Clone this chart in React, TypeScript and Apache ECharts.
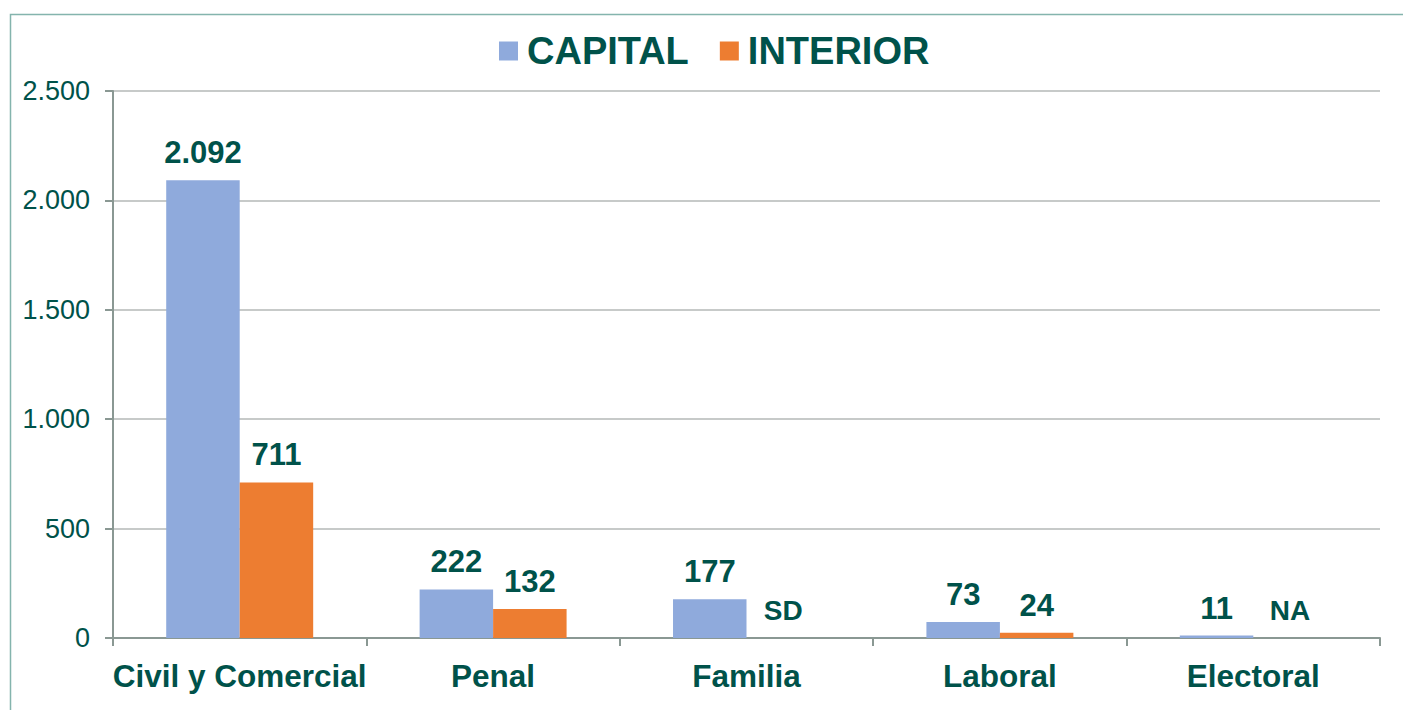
import React, { useEffect, useRef } from "react";
import * as echarts from "echarts";

const categories = ["Civil y Comercial", "Penal", "Familia", "Laboral", "Electoral"];
const capital = [2092, 222, 177, 73, 11];
const interior = [711, 132, 0, 24, 0];
const interiorNotes = ["", "", "SD", "", "NA"];
const yTicks = [0, 500, 1000, 1500, 2000, 2500];

const TEXT = "#00524a";
const FONT = "Liberation Sans, Arial, sans-serif";

function fmt(v: number): string {
  return String(v).replace(/\B(?=(\d{3})+(?!\d))/g, ".");
}

export default function App() {
  const ref = useRef<HTMLDivElement>(null);
  useEffect(() => {
    if (!ref.current) return;
    const chart = echarts.init(ref.current, null, { renderer: "svg" });
    const labelBase = {
      show: true,
      position: "top" as const,
      distance: 12,
      color: TEXT,
      fontFamily: FONT,
      fontWeight: "bold" as const,
      fontSize: 31,
    };
    chart.setOption({
      animation: false,
      backgroundColor: "#ffffff",
      graphic: [
        {
          type: "rect",
          shape: { x: 10.5, y: 14.5, width: 1420, height: 720 },
          style: { fill: "none", stroke: "#84b4ad", lineWidth: 1.5 },
          silent: true,
          z: -1,
        },
      ],
      legend: {
        top: 27,
        left: 494,
        itemWidth: 19,
        itemHeight: 19,
        itemGap: 31,
        icon: "rect",
        textStyle: {
          color: TEXT,
          fontFamily: FONT,
          fontWeight: "bold",
          fontSize: 38,
          padding: [0, 0, 0, 4],
        },
        data: ["CAPITAL", "INTERIOR"],
      },
      grid: { left: 113, right: 23, top: 91, bottom: 72, containLabel: false },
      xAxis: {
        type: "category",
        data: categories,
        axisLine: { lineStyle: { color: "#8a9893", width: 2 } },
        axisTick: { show: true, length: 8, lineStyle: { color: "#8a9893", width: 2 } },
        axisLabel: {
          color: TEXT,
          fontFamily: FONT,
          fontWeight: "bold",
          fontSize: 31.5,
          margin: 22,
          interval: 0,
        },
      },
      yAxis: {
        type: "value",
        min: yTicks[0],
        max: yTicks[yTicks.length - 1],
        interval: 500,
        axisLine: { show: true, lineStyle: { color: "#8a9893", width: 2 } },
        axisTick: { show: true, length: 8, lineStyle: { color: "#8a9893", width: 2 } },
        splitLine: { lineStyle: { color: "#b4b9b7", width: 1.5 } },
        axisLabel: {
          color: TEXT,
          fontFamily: FONT,
          fontSize: 27,
          margin: 23,
          formatter: (v: number) => fmt(v),
        },
      },
      series: [
        {
          name: "CAPITAL",
          type: "bar",
          data: capital,
          barGap: "0%",
          barCategoryGap: "42%",
          itemStyle: { color: "#8faadc" },
          label: { ...labelBase, formatter: (p: any) => fmt(p.value) },
        },
        {
          name: "INTERIOR",
          type: "bar",
          data: interior.map((v, i) =>
            interiorNotes[i]
              ? { value: v, label: { formatter: interiorNotes[i], fontSize: 28, distance: 14 } }
              : v
          ),
          itemStyle: { color: "#ed7d31" },
          label: { ...labelBase, formatter: (p: any) => fmt(p.value) },
        },
      ],
    });
    return () => chart.dispose();
  }, []);
  return (
    <div
      ref={ref}
      style={{ position: "fixed", left: 0, top: 0, width: 1403, height: 710 }}
    />
  );
}
